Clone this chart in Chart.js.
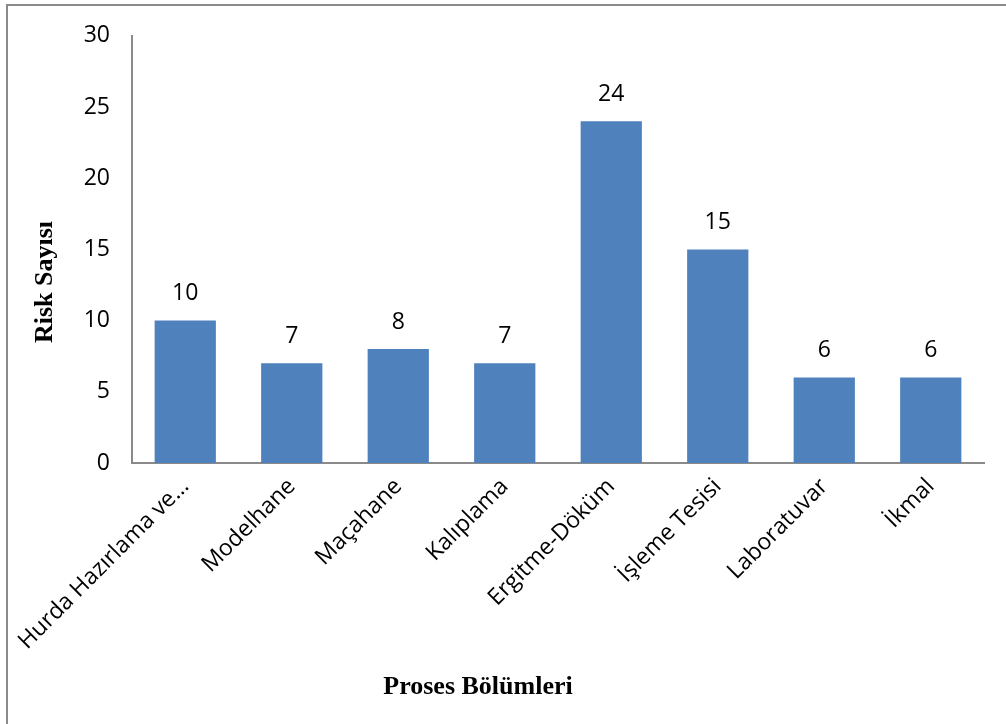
<!DOCTYPE html>
<html>
<head>
<meta charset="utf-8">
<script src="https://cdn.jsdelivr.net/npm/chart.js@4.4.1/dist/chart.umd.min.js"></script>
<style>
  html, body { margin: 0; padding: 0; background: #fff; overflow: hidden; }
  #frame { position: absolute; left: 6px; top: 4px; width: 2000px; height: 2000px;
           border-left: 2px solid #8a8a8a; border-top: 2px solid #8a8a8a; }
  #chart { position: absolute; left: 0; top: 0; }
</style>
</head>
<body>
<div id="frame"></div>
<canvas id="chart" width="1006" height="724"></canvas>
<script>
// Proses bölümlerine göre risk sayısı
var categories = ['Hurda Hazırlama ve…', 'Modelhane', 'Maçahane', 'Kalıplama',
                  'Ergitme-Döküm', 'İşleme Tesisi', 'Laboratuvar', 'İkmal'];
var riskCounts = [10, 7, 8, 7, 24, 15, 6, 6];
var yTicks = [0, 5, 10, 15, 20, 25, 30];
var xTitle = 'Proses Bölümleri';
var yTitle = 'Risk Sayısı';

var labelFont = '"Open Sans", "Liberation Sans", sans-serif';
var titleFont = '"Liberation Serif", "DejaVu Serif", serif';

// value labels above each bar + axis titles
var extras = {
    id: 'extras',
    afterDatasetsDraw: function(chart) {
        var ctx = chart.ctx;
        var meta = chart.getDatasetMeta(0);
        ctx.save();
        ctx.font = '23px ' + labelFont;
        ctx.fillStyle = '#000';
        ctx.textAlign = 'center';
        ctx.textBaseline = 'middle';
        meta.data.forEach(function(bar, i) {
            ctx.fillText(riskCounts[i], bar.x, bar.y - 27);
        });

        ctx.font = 'bold 26px ' + titleFont;
        ctx.fillText(xTitle, 478, 687);
        ctx.translate(45, 282);
        ctx.rotate(-Math.PI / 2);
        ctx.fillText(yTitle, 0, 0);
        ctx.restore();
    }
};

new Chart(document.getElementById('chart'), {
    type: 'bar',
    data: {
        labels: categories,
        datasets: [{
            label: 'Risk Sayısı',
            data: riskCounts,
            backgroundColor: '#4f81bd',
            borderWidth: 0,
            barPercentage: 0.575,
            categoryPercentage: 1
        }]
    },
    options: {
        responsive: false,
        animation: false,
        layout: { padding: { top: 34, right: 22, left: 0, bottom: 0 } },
        plugins: {
            legend: { display: false },
            tooltip: { enabled: false }
        },
        scales: {
            x: {
                grid: { display: false, drawTicks: false },
                border: { color: '#8a8a8a', width: 2 },
                ticks: {
                    autoSkip: false,
                    minRotation: 45,
                    maxRotation: 45,
                    padding: 10,
                    color: '#000',
                    font: { family: labelFont, size: 23 }
                },
                afterFit: function(scale) { scale.height = 261; }
            },
            y: {
                min: 0,
                max: 30,
                afterBuildTicks: function(scale) {
                    scale.ticks = yTicks.map(function(v) { return { value: v }; });
                },
                grid: { display: false, drawTicks: false },
                border: { color: '#8a8a8a', width: 2 },
                ticks: {
                    padding: 22,
                    color: '#000',
                    font: { family: labelFont, size: 23 }
                },
                afterFit: function(scale) { scale.width = 132; }
            }
        }
    },
    plugins: [extras]
});
</script>
</body>
</html>
